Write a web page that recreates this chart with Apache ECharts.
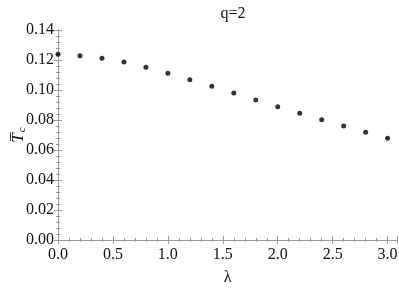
<!DOCTYPE html>
<html><head><meta charset="utf-8">
<script src="https://cdn.jsdelivr.net/npm/echarts@6/dist/echarts.min.js"></script>
<style>html,body{margin:0;padding:0;background:#fff}#c{width:399px;height:288px}</style>
</head><body><div id="c"></div>
<script>
var lambdas = [0.0,0.2,0.4,0.6,0.8,1.0,1.2,1.4,1.6,1.8,2.0,2.2,2.4,2.6,2.8,3.0];
var tcValues = [0.1238,0.1229,0.1211,0.1187,0.1151,0.1111,0.1069,0.1025,0.0980,0.0933,0.0889,0.0845,0.0802,0.0760,0.0718,0.0678];
var titleText = 'q=2';

var serif = 'Liberation Serif, DejaVu Serif, serif';
var frame = '#999';
var txt = '#111';
var data = lambdas.map(function(x,i){return [x, tcValues[i]];});

var chart = echarts.init(document.getElementById('c'));
var baseX = {
  type:'value', min:0, max:3.09, interval:0.5,
  axisLine:{show:true, lineStyle:{color:frame, width:1}},
  axisTick:{show:true, inside:true, length:4, lineStyle:{color:frame}},
  minorTick:{show:true, splitNumber:5, length:2, lineStyle:{color:frame}},
  splitLine:{show:false}
};
var baseY = {
  type:'value', min:0, max:0.14, interval:0.02,
  axisLine:{show:true, lineStyle:{color:frame, width:1}},
  axisTick:{show:true, inside:true, length:4, lineStyle:{color:frame}},
  minorTick:{show:true, splitNumber:5, length:2, lineStyle:{color:frame}},
  splitLine:{show:false}
};
chart.setOption({
  animation:false,
  title:{text:titleText, left:228, top:1, textAlign:'center',
    textStyle:{fontFamily:serif, fontSize:16, fontWeight:'normal', color:txt}},
  grid:{left:58, right:1.5, top:30, bottom:48, containLabel:false, outerBoundsMode:'none'},
  xAxis:[
    Object.assign({}, baseX, {position:'bottom',
      name:'λ', nameLocation:'middle', nameGap:30, nameMoveOverlap:false,
      nameTextStyle:{fontFamily:serif, fontSize:16, color:txt},
      axisLabel:{show:true, margin:7, fontFamily:serif, fontSize:16, color:txt, showMaxLabel:false,
        formatter:function(v){return v.toFixed(1);}}}),
    Object.assign({}, baseX, {position:'top', axisLabel:{show:false}})
  ],
  yAxis:[
    Object.assign({}, baseY, {position:'left',
      name:'{t|T\u0305}{s|c}', nameLocation:'middle', nameGap:30, nameRotate:90, nameMoveOverlap:false,
      nameTextStyle:{rich:{
        t:{fontFamily:serif, fontStyle:'italic', fontSize:17, color:txt},
        s:{fontFamily:serif, fontStyle:'italic', fontSize:11, color:txt, verticalAlign:'bottom', padding:[8,0,0,1]}
      }},
      axisLabel:{show:true, margin:4, fontFamily:serif, fontSize:16, color:txt,
        formatter:function(v){return v.toFixed(2);}}}),
    Object.assign({}, baseY, {position:'right', axisLabel:{show:false}})
  ],
  series:[{type:'scatter', data:data, symbolSize:5, itemStyle:{color:'#000'}, xAxisIndex:0, yAxisIndex:0}]
});
</script></body></html>
